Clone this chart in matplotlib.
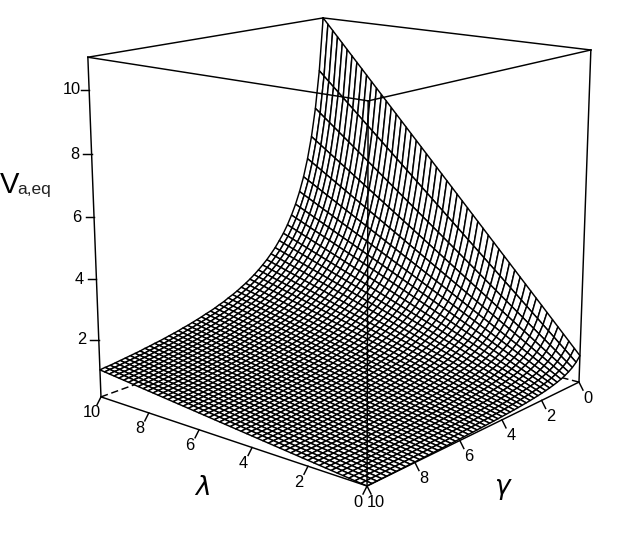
import numpy as np
import matplotlib
matplotlib.use("Agg")
import matplotlib.pyplot as plt
from matplotlib.collections import PolyCollection

plt.rcParams['font.family'] = ['Liberation Sans', 'DejaVu Sans']

# axis values
lambda_ticks = [0, 2, 4, 6, 8, 10]
gamma_ticks = [0, 2, 4, 6, 8, 10]
z_ticks = [2, 4, 6, 8, 10]
lambda_grid = np.arange(51) * 0.2
gamma_grid = np.arange(51) * 0.2

# height of the surface along the lambda=0 edge, read for each gamma grid line
edge_height = [1.000, 0.833, 0.714, 0.625, 0.556, 0.500, 0.455, 0.417, 0.385, 0.357,
               0.333, 0.313, 0.294, 0.278, 0.263, 0.250, 0.238, 0.227, 0.217, 0.208,
               0.200, 0.192, 0.185, 0.179, 0.172, 0.167, 0.161, 0.156, 0.152, 0.147,
               0.143, 0.139, 0.135, 0.132, 0.128, 0.125, 0.122, 0.119, 0.116, 0.114,
               0.111, 0.109, 0.106, 0.104, 0.102, 0.100, 0.098, 0.096, 0.094, 0.093,
               0.091]
# height along the straight gamma=0 edge, for each lambda grid line
back_height = [1.0, 1.2, 1.4, 1.6, 1.8, 2.0, 2.2, 2.4, 2.6, 2.8,
               3.0, 3.2, 3.4, 3.6, 3.8, 4.0, 4.2, 4.4, 4.6, 4.8,
               5.0, 5.2, 5.4, 5.6, 5.8, 6.0, 6.2, 6.4, 6.6, 6.8,
               7.0, 7.2, 7.4, 7.6, 7.8, 8.0, 8.2, 8.4, 8.6, 8.8,
               9.0, 9.2, 9.4, 9.6, 9.8, 10.0, 10.2, 10.4, 10.6, 10.8,
               11.0]

Z_MIN, Z_MAX = 0.091, 11

# box corners (lambda, gamma, z) and where they sit in the image, used to fit the camera
box_points = [(10, 10, Z_MIN), (0, 10, Z_MIN), (0, 0, Z_MIN),
              (10, 10, Z_MAX), (10, 0, Z_MAX), (0, 0, Z_MAX), (0, 10, Z_MAX)]
box_pixels = [(101, 397), (367, 486), (579, 382),
              (88, 57), (323, 18), (591, 50), (368, 101)]


def fit_camera(points, pixels):
    rows = []
    for (x, y, z), (u, v) in zip(points, pixels):
        rows.append([x, y, z, 1, 0, 0, 0, 0, -u * x, -u * y, -u * z, -u])
        rows.append([0, 0, 0, 0, x, y, z, 1, -v * x, -v * y, -v * z, -v])
    _, _, vt = np.linalg.svd(np.array(rows, dtype=float))
    return vt[-1].reshape(3, 4)


P = fit_camera(box_points, box_pixels)


def project(x, y, z):
    x, y, z = np.asarray(x, float), np.asarray(y, float), np.asarray(z, float)
    w = P[2, 0] * x + P[2, 1] * y + P[2, 2] * z + P[2, 3]
    u = (P[0, 0] * x + P[0, 1] * y + P[0, 2] * z + P[0, 3]) / w
    v = (P[1, 0] * x + P[1, 1] * y + P[1, 2] * z + P[1, 3]) / w
    return u, v


fig = plt.figure(figsize=(6.42, 5.53), dpi=100)
ax = fig.add_axes([0, 0, 1, 1])
ax.set_xlim(0, 642)
ax.set_ylim(553, 0)
ax.axis('off')

LW = 1.05


def edge(a, b, zorder=1, **kw):
    u, v = project(*zip(a, b))
    ax.plot(u, v, color='black', lw=LW, zorder=zorder, **kw)


# back of the box, covered by the surface
edge((10, 0, Z_MIN), (10, 0, Z_MAX))
edge((10, 10, Z_MIN), (10, 0, Z_MIN), ls=(0, (5, 2.5)))
edge((0, 0, Z_MIN), (10, 0, Z_MIN), ls=(0, (5, 2.5)))
edge((10, 10, Z_MAX), (10, 0, Z_MAX))
edge((10, 0, Z_MAX), (0, 0, Z_MAX))

# surface, back cells first
L, G = np.meshgrid(lambda_grid, gamma_grid, indexing='ij')
Z = np.outer(back_height, edge_height)
U, V = project(L, G, Z)
polys = []
depth = []
for i in range(len(lambda_grid) - 1):
    for j in range(len(gamma_grid) - 1):
        polys.append([(U[i, j], V[i, j]), (U[i + 1, j], V[i + 1, j]),
                      (U[i + 1, j + 1], V[i + 1, j + 1]), (U[i, j + 1], V[i, j + 1])])
        depth.append(lambda_grid[i] - gamma_grid[j])
order = np.argsort(depth)[::-1]
mesh = PolyCollection([polys[k] for k in order], facecolors='white', edgecolors='black',
                      linewidths=LW, zorder=2)
ax.add_collection(mesh)

# front of the box, over the surface
edge((10, 10, Z_MIN), (0, 10, Z_MIN), zorder=3)
edge((0, 10, Z_MIN), (0, 0, Z_MIN), zorder=3)
edge((10, 10, Z_MIN), (10, 10, Z_MAX), zorder=3)
edge((0, 0, Z_MIN), (0, 0, Z_MAX), zorder=3)
edge((0, 10, Z_MIN), (0, 10, Z_MAX), zorder=3)
edge((10, 10, Z_MAX), (0, 10, Z_MAX), zorder=3)
edge((0, 10, Z_MAX), (0, 0, Z_MAX), zorder=3)

TICK_FS = 11.8

# ticks along the lambda edge
for t in lambda_ticks:
    u0, v0 = project(t, 10, Z_MIN)
    ax.plot([u0, u0 - 4], [v0, v0 + 8], color='black', lw=LW, zorder=3)
    ax.text(u0 - 9, v0 + 16, str(t), fontsize=TICK_FS, ha='center', va='center')

# ticks along the gamma edge
for t in gamma_ticks:
    u0, v0 = project(0, t, Z_MIN)
    ax.plot([u0, u0 + 4], [v0, v0 + 8], color='black', lw=LW, zorder=3)
    ax.text(u0 + 9, v0 + 16, str(t), fontsize=TICK_FS, ha='center', va='center')

# ticks up the left vertical
for t in z_ticks:
    u0, v0 = project(10, 10, t)
    ax.plot([u0 - 8.5, u0], [v0, v0], color='black', lw=LW, zorder=3)
    ax.text(u0 - 17, v0, str(t), fontsize=TICK_FS, ha='center', va='center')

ax.text(202, 488, r'$\lambda$', fontsize=19, ha='center', va='center',
        math_fontfamily='dejavusans')
ax.text(503, 489, r'$\gamma$', fontsize=19, ha='center', va='center',
        math_fontfamily='dejavusans')
ax.text(0, 193, 'V', fontsize=21, ha='left', va='baseline')
ax.text(17, 194, 'a,eq', fontsize=12.5, ha='left', va='baseline', color='#222222')

fig.savefig('out.png', dpi=100)
